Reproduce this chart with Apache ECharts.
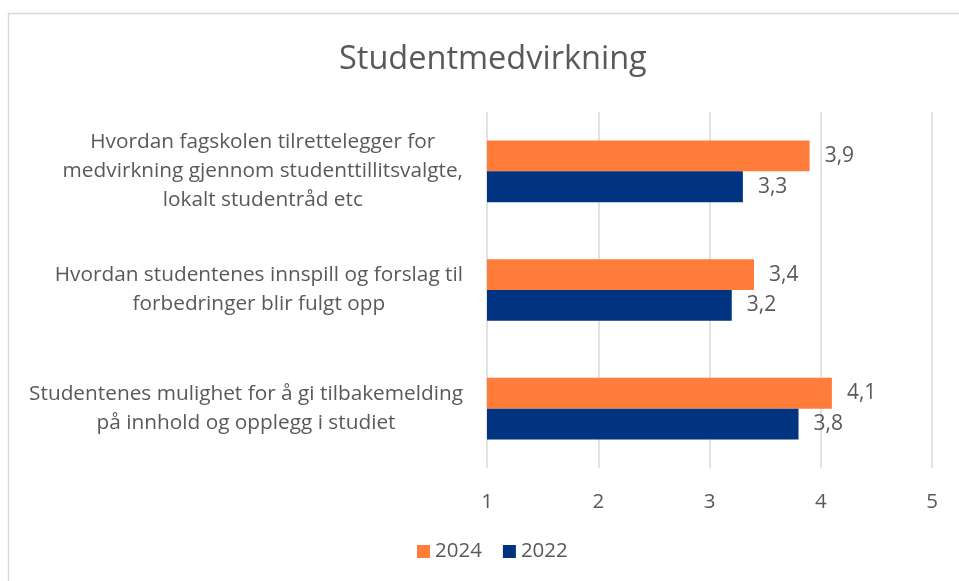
<!DOCTYPE html>
<html>
<head>
<meta charset="utf-8">
<script src="https://cdn.jsdelivr.net/npm/echarts@6/dist/echarts.min.js"></script>
<style>
  html, body { margin: 0; padding: 0; background: #fff; }
  #main { width: 959px; height: 581px; }
</style>
</head>
<body>
<div id="main"></div>
<script>
// data, top to bottom as in the picture
var categories = [
  "Hvordan fagskolen tilrettelegger for\nmedvirkning gjennom studenttillitsvalgte,\nlokalt studentråd etc",
  "Hvordan studentenes innspill og forslag til\nforbedringer blir fulgt opp",
  "Studentenes mulighet for å gi tilbakemelding\npå innhold og opplegg i studiet"
];
var values2024 = [3.9, 3.4, 4.1];
var values2022 = [3.3, 3.2, 3.8];
var xTicks = [1, 2, 3, 4, 5];

var textColor = "#595959";
var fontName = "Open Sans";
var fs = 20.5;

var chart = echarts.init(document.getElementById("main"));

function commaLabel(p) {
  return String(p.value).replace(".", ",");
}

var option = {
  animation: false,
  textStyle: { fontFamily: fontName },
  graphic: [{
    type: "rect",
    shape: { x: 8.5, y: 13.5, width: 1000, height: 700 },
    style: { fill: "none", stroke: "#d9d9d9", lineWidth: 1.5 },
    silent: true
  }],
  title: {
    text: "Studentmedvirkning",
    left: 334,
    top: 38,
    textStyle: { fontSize: 32.5, fontWeight: "normal", color: textColor, fontFamily: fontName }
  },
  legend: {
    bottom: 14,
    left: 412,
    itemWidth: 13,
    itemHeight: 13,
    itemGap: 21,
    icon: "rect",
    textStyle: { fontSize: fs, color: textColor, fontFamily: fontName },
    data: ["2024", "2022"]
  },
  grid: { left: 487, right: 27, top: 112, bottom: 113 },
  xAxis: {
    type: "value",
    min: xTicks[0],
    max: xTicks[xTicks.length - 1],
    interval: 1,
    axisLine: { show: false },
    axisTick: { show: false },
    axisLabel: { fontSize: fs, color: textColor, margin: 24, fontFamily: fontName },
    splitLine: { lineStyle: { color: "#d9d9d9", width: 1.5 } }
  },
  yAxis: {
    type: "category",
    inverse: true,
    data: categories,
    axisLine: { show: false },
    axisTick: { show: false },
    axisLabel: {
      margin: 24,
      formatter: function (v) {
        return v.split("\n").map(function (s) { return "{c|" + s + "}"; }).join("\n");
      },
      rich: {
        c: { fontSize: 20.8, color: textColor, align: "center", lineHeight: 29, fontFamily: fontName }
      }
    }
  },
  series: [
    {
      name: "2024",
      type: "bar",
      data: values2024,
      barGap: "0%",
      barCategoryGap: "48%",
      itemStyle: { color: "#ff7c3b" },
      label: { show: true, position: "right", distance: 15, fontSize: 21, color: textColor, formatter: commaLabel }
    },
    {
      name: "2022",
      type: "bar",
      data: values2022,
      barGap: "0%",
      barCategoryGap: "48%",
      itemStyle: { color: "#003380" },
      label: { show: true, position: "right", distance: 15, fontSize: 21, color: textColor, formatter: commaLabel }
    }
  ]
};

chart.setOption(option);
</script>
</body>
</html>
